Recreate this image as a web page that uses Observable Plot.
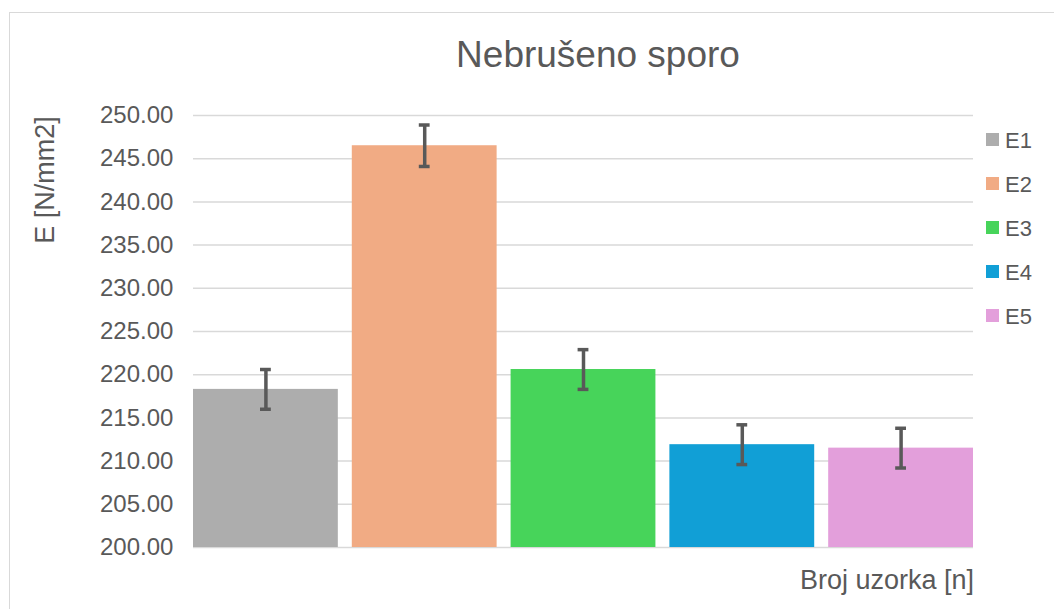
<!DOCTYPE html>
<html><head><meta charset="utf-8">
<script src="https://cdn.jsdelivr.net/npm/d3@7"></script>
<script src="https://cdn.jsdelivr.net/npm/@observablehq/plot@0.6"></script>
<style>
body{margin:0;background:#fff;font-family:"Liberation Sans",Arial,sans-serif;}
#frame{position:absolute;left:9px;top:12px;width:1100px;height:700px;border:1.5px solid #d9d9d9;box-sizing:border-box;}
#chart{position:absolute;left:0;top:0;}
</style></head>
<body>
<div id="frame"></div>
<div id="chart"></div>
<script>
const categories = ["E1","E2","E3","E4","E5"];
const values = [218.3, 246.5, 220.6, 211.9, 211.5];
const errors = [2.3, 2.4, 2.3, 2.3, 2.3];
const colors = ["#ADADAD","#F1AB84","#47D45A","#119FD6","#E39FDB"];
const yTicks = d3.range(200, 250.001, 5);
const title = "Nebrušeno sporo";
const yLabel = "E [N/mm2]";
const xLabel = "Broj uzorka [n]";

const data = categories.map((c,i)=>({cat:c, v:values[i], lo:values[i]-errors[i], hi:values[i]+errors[i]}));

const W=1054, H=609, mL=193, mR=81, mT=115, mB=62;
const plot = Plot.plot({
  width:W, height:H, marginLeft:mL, marginRight:mR, marginTop:mT, marginBottom:mB,
  style:{fontFamily:"Liberation Sans, Arial, sans-serif", fontSize:"24px", color:"#595959", background:"transparent"},
  x:{domain:categories, paddingInner:0.088, paddingOuter:0, axis:null, round:false},
  y:{domain:[200,250], axis:null},
  color:{domain:categories, range:colors},
  marks:[
    Plot.ruleY(yTicks, {stroke:"#d9d9d9", strokeWidth:1.5}),
    Plot.barY(data, {x:"cat", y1:200, y2:"v", fill:"cat"}),
    Plot.ruleX(data, {x:"cat", y1:"lo", y2:"hi", stroke:"#595959", strokeWidth:3.5}),
    Plot.tickY(data, {x:"cat", y:"lo", stroke:"#595959", strokeWidth:3.5, insetLeft:67, insetRight:67}),
    Plot.tickY(data, {x:"cat", y:"hi", stroke:"#595959", strokeWidth:3.5, insetLeft:67, insetRight:67}),
    Plot.text(yTicks, {x:()=>categories[0], y:d=>d, text:d=>d.toFixed(2), textAnchor:"end", dx:-72.5-20, fill:"#595959", fontSize:24})
  ]
});
document.getElementById("chart").appendChild(plot);

const svg = d3.select(plot);
svg.append("text").attr("x",598).attr("y",67).attr("text-anchor","middle")
  .attr("font-size",37).attr("fill","#595959").text(title);
svg.append("text").attr("transform","translate(54,180) rotate(-90)").attr("text-anchor","middle")
  .attr("font-size",27).attr("fill","#595959").text(yLabel);
svg.append("text").attr("x",974).attr("y",589).attr("text-anchor","end")
  .attr("font-size",27).attr("fill","#595959").text(xLabel);
const lg = svg.append("g");
categories.forEach((c,i)=>{
  const y0 = 139.5 + i*44;
  lg.append("rect").attr("x",986).attr("y",y0-6.5).attr("width",13).attr("height",13).attr("fill",colors[i]);
  lg.append("text").attr("x",1005).attr("y",y0+8).attr("text-anchor","start").attr("font-size",22).attr("fill","#595959").text(c);
});
</script>
</body></html>
